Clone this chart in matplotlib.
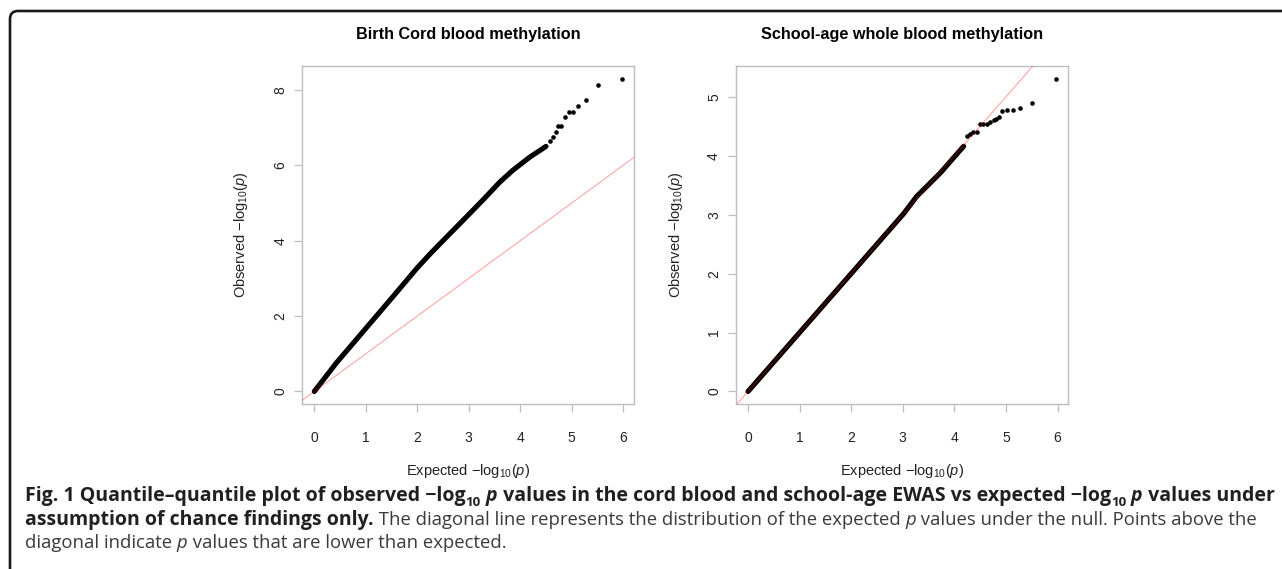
import numpy as np
import matplotlib
matplotlib.use('Agg')
import matplotlib.pyplot as plt
from matplotlib.path import Path
from matplotlib.patches import PathPatch

W, H, DPI = 1282, 569, 100

# ---------------- data ----------------
titles = ["Birth Cord blood methylation", "School-age whole blood methylation"]

# Birth cord blood: dense part of the Q-Q curve (expected, observed)
cord_dense_exp = [0.0, 0.43, 0.98, 1.53, 2.00, 2.25, 2.50, 2.99, 3.29, 3.60, 3.85, 4.00, 4.19, 4.50]
cord_dense_obs = [0.0, 0.76, 1.64, 2.52, 3.28, 3.65, 4.00, 4.68, 5.10, 5.55, 5.86, 6.02, 6.22, 6.50]
# Birth cord blood: sparse upper tail points
cord_tail_exp = [4.57, 4.64, 4.70, 4.73, 4.80, 4.86, 4.94, 5.02, 5.13, 5.27, 5.50, 5.97]
cord_tail_obs = [6.63, 6.76, 6.87, 7.05, 7.05, 7.28, 7.40, 7.40, 7.58, 7.72, 8.12, 8.30]

# School-age whole blood
school_dense_exp = [0.0, 1.01, 2.02, 3.02, 3.27, 3.73, 4.18]
school_dense_obs = [0.0, 1.01, 2.02, 3.02, 3.31, 3.71, 4.16]
school_tail_exp = [4.24, 4.30, 4.37, 4.44, 4.50, 4.56, 4.63, 4.70, 4.76, 4.81, 4.86,
                   4.92, 5.02, 5.14, 5.28, 5.50, 5.97]
school_tail_obs = [4.33, 4.37, 4.40, 4.41, 4.53, 4.53, 4.54, 4.58, 4.60, 4.63, 4.66,
                   4.76, 4.77, 4.78, 4.81, 4.89, 5.31]

cord_yticks = [0, 2, 4, 6, 8]
school_yticks = [0, 1, 2, 3, 4, 5]
xticks = [0, 1, 2, 3, 4, 5, 6]

# ---------------- styling ----------------
plt.rcParams['mathtext.fontset'] = 'custom'
plt.rcParams['mathtext.rm'] = 'Liberation Sans'
plt.rcParams['mathtext.it'] = 'Liberation Sans:italic'
plt.rcParams['font.family'] = ['Liberation Sans', 'DejaVu Sans']

fig = plt.figure(figsize=(W / DPI, H / DPI), dpi=DPI)
fig.patch.set_facecolor('white')

GREY = '#bdbdbd'
TXT = '#222222'
TICK_FS = 10.0
LAB_FS = 10.5


def add_ax(l, t, r, b):
    return fig.add_axes([l / W, 1 - b / H, (r - l) / W, (b - t) / H])


def r_lim(vals):
    lo, hi = min(vals), max(vals)
    d = (hi - lo) * 0.04
    return lo - d, hi + d


def panel(ax, title, dx, dy, tx, ty, yticks, title_x, ylab_off):
    allx = list(dx) + list(tx)
    ally = list(dy) + list(ty)
    ax.set_xlim(*r_lim(allx))
    ax.set_ylim(*r_lim(ally))
    ax.plot(dx, dy, color='black', lw=3.7, solid_capstyle='round',
            solid_joinstyle='round', zorder=2)
    ax.plot(tx, ty, 'o', color='black', ms=3.3, mec='none', zorder=2)
    ax.axline((0, 0), slope=1, color='red', alpha=0.35, lw=0.8, zorder=3)
    ax.set_xticks(xticks)
    ax.set_yticks(yticks)
    for s in ax.spines.values():
        s.set_color(GREY)
        s.set_linewidth(1.0)
    ax.tick_params(direction='out', length=5.5, width=0.9, color=GREY,
                   labelcolor=TXT, labelsize=TICK_FS, pad=5)
    ax.tick_params(axis='x', pad=14)
    for lab in ax.get_yticklabels():
        lab.set_rotation(90)
        lab.set_va('center')
    ax.set_xlabel(r'Expected $-\log_{10}\!(p)$', fontsize=LAB_FS, color=TXT)
    ax.set_ylabel(r'Observed $-\log_{10}\!(p)$', fontsize=LAB_FS, color=TXT)
    bb = ax.get_position()
    axh = bb.height * H
    axw = bb.width * W
    ax.xaxis.set_label_coords(0.5, -(471 - 404) / axh)
    ax.xaxis.label.set_va('center')
    ax.yaxis.set_label_coords(-ylab_off / axw, 0.5)
    ax.yaxis.label.set_va('center')
    fig.text(title_x / W, 1 - 39.3 / H, title, ha='center', va='baseline',
             fontsize=11.7, fontweight='bold', color='black')


ax1 = add_ax(302, 66, 634, 404)
panel(ax1, titles[0], cord_dense_exp, cord_dense_obs, cord_tail_exp, cord_tail_obs,
      cord_yticks, 468, 61)
ax2 = add_ax(735.7, 66, 1068.3, 404)
panel(ax2, titles[1], school_dense_exp, school_dense_obs, school_tail_exp, school_tail_obs,
      school_yticks, 902, 60)

# ---------------- frame ----------------
r = 8
x0, y0 = 10, 11
verts = [(x0, H), (x0, y0 + r), (x0, y0), (x0 + r, y0), (W, y0)]
codes = [Path.MOVETO, Path.LINETO, Path.CURVE3, Path.CURVE3, Path.LINETO]
verts_f = [(vx / W, 1 - vy / H) for vx, vy in verts]
fig.add_artist(PathPatch(Path(verts_f, codes), transform=fig.transFigure,
                         fill=False, lw=1.9, color='#1a1a1a', capstyle='butt'))

# ---------------- caption ----------------
renderer = fig.canvas.get_renderer()
CAP_FONT = ['Open Sans', 'DejaVu Sans']
BOLD_C = '#231f20'
REG_C = '#3a3a3a'
MINUS = '\u2212'


def seg_width(txt, size, weight, style):
    t1 = fig.text(0, 0, txt + '|', fontsize=size, fontweight=weight,
                  fontstyle=style, family=CAP_FONT)
    t2 = fig.text(0, 0, '|', fontsize=size, fontweight=weight,
                  fontstyle=style, family=CAP_FONT)
    w = t1.get_window_extent(renderer).width - t2.get_window_extent(renderer).width
    t1.remove()
    t2.remove()
    return w


def layout(segments, x_start, y_base, size, reg_scale, draw):
    x = x_start
    for txt, weight, style, scale, dy, color in segments:
        s = size * scale * (reg_scale if weight == 'normal' else 1.0)
        if draw:
            fig.text(x / W, 1 - (y_base + dy * size) / H, txt, fontsize=s,
                     fontweight=weight, fontstyle=style, color=color,
                     family=CAP_FONT, ha='left', va='baseline')
        x += seg_width(txt, s, weight, style)
    return x - x_start


B = ('bold', 'normal', 1.0, 0.0, BOLD_C)
BI = ('bold', 'italic', 1.0, 0.0, BOLD_C)
BS = ('bold', 'normal', 0.68, 0.40, BOLD_C)
R = ('normal', 'normal', 1.0, 0.0, REG_C)
RI = ('normal', 'italic', 1.0, 0.0, REG_C)


def S(txt, st):
    return (txt,) + st


line1 = [S('Fig. 1 Quantile\u2013quantile plot of observed ' + MINUS + 'log', B), S('10', BS),
         S(' ', B), S('p', BI),
         S(' values in the cord blood and school-age EWAS vs expected ' + MINUS + 'log', B),
         S('10', BS), S(' ', B), S('p', BI), S(' values under', B)]
line2_bold = [S('assumption of chance findings only.', B)]
line2_reg = [S(' The diagonal line represents the distribution of the expected ', R),
             S('p', RI), S(' values under the null. Points above the', R)]
line3 = [S('diagonal indicate ', R), S('p', RI), S(' values that are lower than expected.', R)]

X0 = 25
base = 10.0
w1 = layout(line1, X0, 500.7, base, 1.0, False)
cap_size = base * (1273 - X0) / w1
wb = layout(line2_bold, X0, 525.0, cap_size, 1.0, False)
wr = layout(line2_reg, X0, 525.0, cap_size, 1.0, False)
reg_scale = (1257 - X0 - wb) / wr

layout(line1, X0, 500.7, cap_size, 1.0, True)
layout(line2_bold + line2_reg, X0, 525.0, cap_size, reg_scale, True)
layout(line3, X0, 548.5, cap_size, reg_scale, True)

fig.savefig('out.png', dpi=DPI, facecolor='white')
